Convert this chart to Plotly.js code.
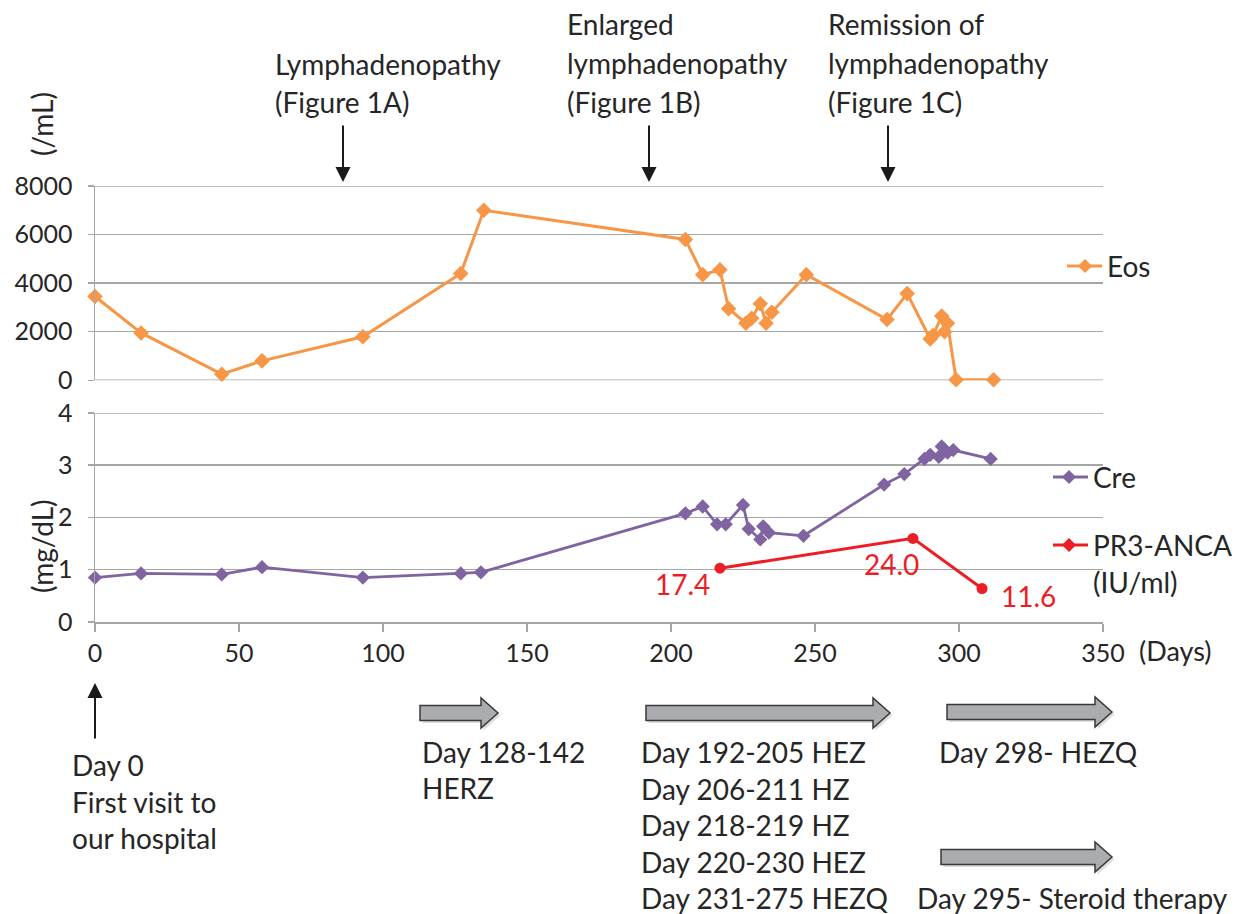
<!DOCTYPE html>
<html><head><meta charset="utf-8">
<script src="https://cdn.plot.ly/plotly-3.0.1.min.js"></script>
<style>html,body{margin:0;padding:0;background:#fff;} #chart{width:1234px;height:914px;}</style>
</head><body><div id="chart"></div>
<script>
// ---- data ----
const eosDays   = [0, 16, 44, 58, 93, 127, 135, 205, 211, 217, 220, 226, 228, 231, 233, 235, 247, 275, 282, 290, 291, 294, 295, 296, 299, 312];
const eosValues = [3450, 1950, 250, 800, 1790, 4400, 7000, 5800, 4350, 4550, 2950, 2350, 2550, 3150, 2350, 2800, 4350, 2500, 3570, 1700, 1850, 2650, 2000, 2350, 20, 20];
const creDays   = [0, 16, 44, 58, 93, 127, 134, 205, 211, 216, 219, 225, 227, 231, 232, 234, 246, 274, 281, 288, 290, 293, 294, 296, 298, 311];
const creValues = [0.85, 0.93, 0.91, 1.05, 0.85, 0.93, 0.95, 2.08, 2.21, 1.87, 1.87, 2.24, 1.78, 1.58, 1.83, 1.71, 1.65, 2.63, 2.83, 3.12, 3.20, 3.16, 3.36, 3.24, 3.29, 3.12];
const pr3Days   = [217, 284, 308];
const pr3Pos    = [1.03, 1.60, 0.64];
const pr3Labels = ['17.4', '24.0', '11.6'];
const xTicks    = [0, 50, 100, 150, 200, 250, 300, 350];
const eosTicks  = [0, 2000, 4000, 6000, 8000];
const creTicks  = [0, 1, 2, 3, 4];
const seriesNames = ['Eos', 'Cre', 'PR3-ANCA', '(IU/ml)'];
const eventLines = [['Lymphadenopathy', '(Figure 1A)'], ['Enlarged', 'lymphadenopathy', '(Figure 1B)'], ['Remission of', 'lymphadenopathy', '(Figure 1C)']];
const treatHERZ = ['Day 128-142', 'HERZ'];
const treatHEZ = ['Day 192-205 HEZ', 'Day 206-211 HZ', 'Day 218-219 HZ', 'Day 220-230 HEZ', 'Day 231-275 HEZQ'];
const firstVisit = ['Day 0', 'First visit to', 'our hospital'];

// ---- styles / geometry ----
const W = 1234, H = 914, L = 95, R = 131, T = 186, B = 292;
const PW = W - L - R, PH = H - T - B;
const px = x => (x - L) / PW;
const py = y => (H - B - y) / PH;
const FONT = 'Lato, "Open Sans", sans-serif';
const TXT = '#262626';
const GRID = '#a6a6a6';
const ORANGE = '#F79646', PURPLE = '#8064A2', RED = '#EE1C25';
const BIG = 28, TICK = 25;

const traces = [
  {x: eosDays, y: eosValues, xaxis: 'x2', yaxis: 'y2', mode: 'lines+markers', name: 'Eos',
   line: {color: ORANGE, width: 3}, marker: {symbol: 'diamond', size: 12, color: ORANGE}, cliponaxis: false},
  {x: creDays, y: creValues, xaxis: 'x', yaxis: 'y', mode: 'lines+markers', name: 'Cre',
   line: {color: PURPLE, width: 2.8}, marker: {symbol: 'diamond', size: 11, color: PURPLE}, cliponaxis: false},
  {x: pr3Days, y: pr3Pos, xaxis: 'x', yaxis: 'y', mode: 'lines+markers', name: 'PR3-ANCA',
   line: {color: RED, width: 3}, marker: {symbol: 'circle', size: 11, color: RED}, cliponaxis: false}
];

const ann = [];
function txt(text, x, y, o) {
  ann.push(Object.assign({text: text, xref: 'paper', yref: 'paper', x: px(x), y: py(y), showarrow: false,
    xanchor: 'left', yanchor: 'middle', font: {family: FONT, size: BIG, color: TXT}}, o || {}));
}
function arrow(x, yTip, dy) {
  ann.push({text: '', xref: 'paper', yref: 'paper', x: px(x), y: py(yTip), ax: 0, ay: dy, showarrow: true,
    arrowhead: 2, arrowsize: 1.5, arrowwidth: 2, arrowcolor: '#1a1a1a'});
}

// top event texts
eventLines[0].forEach((t, i) => txt(t, 273, [64, 102][i]));
eventLines[1].forEach((t, i) => txt(t, 565, [24, 63, 102][i]));
eventLines[2].forEach((t, i) => txt(t, 826, [24, 63, 102][i]));
arrow(343, 182, -58); arrow(649, 182, -58); arrow(888, 182, -58);

// axis unit titles
txt('(/mL)', 42, 124, {textangle: -90, xanchor: 'center'});
txt('(mg/dL)', 42, 546, {textangle: -90, xanchor: 'center'});
txt('(Days)', 1175, 650, {xanchor: 'center', font: {family: FONT, size: 27, color: TXT}});

// legends (drawn manually)
txt(seriesNames[0], 1105, 266);
txt(seriesNames[1], 1091, 477);
txt(seriesNames[2], 1091, 545);
txt(seriesNames[3], 1091, 582);

// PR3 value labels tied to data points
const labelShift = [[-37, -16], [-21, -26], [46, -7]];
pr3Labels.forEach((t, i) => ann.push({text: t, xref: 'x', yref: 'y', x: pr3Days[i], y: pr3Pos[i], showarrow: false,
  xanchor: 'center', yanchor: 'middle', xshift: labelShift[i][0], yshift: labelShift[i][1],
  font: {family: FONT, size: BIG, color: RED}}));

// bottom texts
arrow(95, 683, 57);
firstVisit.forEach((t, i) => txt(t, 70, [765, 802, 838][i]));
treatHERZ.forEach((t, i) => txt(t, 420, [752, 788][i]));
treatHEZ.forEach((t, i) => txt(t, 639, 752 + i * 36.6));
txt('Day 298- HEZQ', 937, 752);
txt('Day 295- Steroid therapy', 915, 898);

// shapes
const shapes = [];
// edge gridlines (Plotly drops gridlines that sit on the plot edge)
[['y2', 8000], ['y2', 0], ['y', 4]].forEach(g => shapes.push({type: 'line', layer: 'below', xref: 'paper', yref: g[0],
  x0: 0, x1: 1, y0: g[1], y1: g[1], line: {color: GRID, width: 1.5}}));
function P(x, y) { return px(x).toFixed(5) + ',' + py(y).toFixed(5); }
function blockArrow(x0, x1, yc) {
  const bh = 7.5, hh = 15, hl = 17;
  const pts = [[x0, yc - bh], [x1 - hl, yc - bh], [x1 - hl, yc - hh], [x1, yc], [x1 - hl, yc + hh], [x1 - hl, yc + bh], [x0, yc + bh]];
  const path = o => 'M' + pts.map(p => P(p[0] + o, p[1] + o)).join(' L') + ' Z';
  shapes.push({type: 'path', xref: 'paper', yref: 'paper', path: path(2.5), fillcolor: 'rgba(0,0,0,0.13)', line: {width: 0}});
  shapes.push({type: 'path', xref: 'paper', yref: 'paper', path: path(0), fillcolor: '#abacb0', line: {color: '#383838', width: 1.5}});
}
blockArrow(420, 498, 713);
blockArrow(646, 890, 713);
blockArrow(947, 1112, 712);
blockArrow(941, 1112, 857);

function legendSym(x0, x1, xm, y, color) {
  shapes.push({type: 'line', xref: 'paper', yref: 'paper', x0: px(x0), x1: px(x1), y0: py(y), y1: py(y), line: {color: color, width: 3}});
  const d = 7;
  shapes.push({type: 'path', xref: 'paper', yref: 'paper', path: 'M' + P(xm, y - d) + ' L' + P(xm + d, y) + ' L' + P(xm, y + d) + ' L' + P(xm - d, y) + ' Z',
    fillcolor: color, line: {width: 0}});
}
legendSym(1067, 1102, 1085, 266, ORANGE);
legendSym(1053, 1088, 1069, 477, PURPLE);
legendSym(1053, 1088, 1069, 545, RED);

const axisCommon = {showline: true, linecolor: GRID, linewidth: 1.5, ticks: 'outside', tickcolor: GRID, tickwidth: 1.5,
  zeroline: false, tickfont: {family: FONT, size: TICK, color: TXT}};

const layout = {
  width: W, height: H, margin: {l: L, r: R, t: T, b: B, pad: 0},
  paper_bgcolor: '#fff', plot_bgcolor: '#fff', showlegend: false,
  font: {family: FONT, color: TXT},
  xaxis: Object.assign({}, axisCommon, {domain: [0, 1], range: [0, 350], tickvals: xTicks, anchor: 'y', ticklen: 8, showgrid: false}),
  yaxis: Object.assign({}, axisCommon, {domain: [0, 0.4794], range: [0, 4], tickvals: creTicks, anchor: 'x', ticklen: 6,
    showgrid: true, gridcolor: GRID, gridwidth: 1.5, ticklabelstandoff: 10}),
  xaxis2: {domain: [0, 1], range: [0, 350], anchor: 'y2', visible: false},
  yaxis2: Object.assign({}, axisCommon, {domain: [0.5544, 1], range: [0, 8000], tickvals: eosTicks, anchor: 'x2', ticklen: 6,
    showgrid: true, gridcolor: GRID, gridwidth: 1.5, ticklabelstandoff: 10}),
  annotations: ann,
  shapes: shapes
};

Plotly.newPlot('chart', traces, layout, {displayModeBar: false, staticPlot: true});
</script></body></html>
